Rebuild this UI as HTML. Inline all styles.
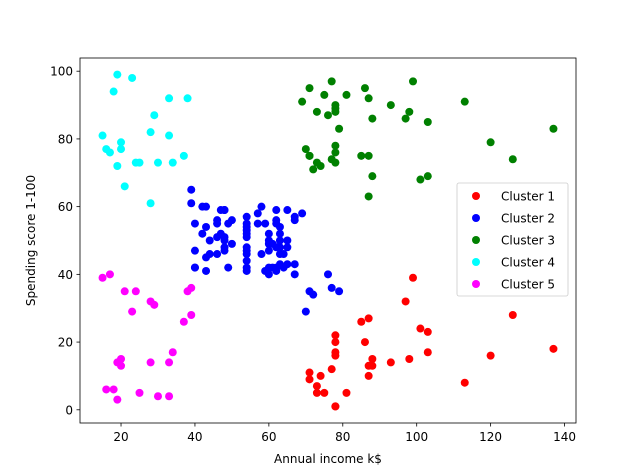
<!DOCTYPE html>
<html><head><meta charset="utf-8"><style>
body{margin:0;background:#fff}
svg{display:block;font-family:"DejaVu Sans","Liberation Sans",sans-serif}
</style></head><body>
<svg id="chart" width="640" height="476"></svg>
<script>
const income=[15,15,16,16,17,17,18,18,19,19,19,19,20,20,20,20,21,21,23,23,24,24,25,25,28,28,28,28,29,29,30,30,33,33,33,33,34,34,37,37,38,38,39,39,39,39,40,40,40,40,42,42,43,43,43,43,44,44,46,46,46,46,47,47,48,48,48,48,48,48,49,49,50,50,54,54,54,54,54,54,54,54,54,54,54,54,57,57,58,58,59,59,60,60,60,60,60,60,61,61,62,62,62,62,62,62,63,63,63,63,63,63,64,64,65,65,65,65,67,67,67,67,69,69,70,70,71,71,71,71,71,71,72,72,73,73,73,73,74,74,75,75,76,76,77,77,77,77,78,78,78,78,78,78,78,78,78,78,78,78,79,79,81,81,85,85,86,86,87,87,87,87,87,87,88,88,88,88,93,93,97,97,98,98,99,99,101,101,103,103,103,103,113,113,120,120,126,126,137,137];
const score=[39,81,6,77,40,76,6,94,3,72,14,99,15,77,13,79,35,66,29,98,35,73,5,73,14,82,32,61,31,87,4,73,4,92,14,81,17,73,26,75,35,92,36,61,28,65,55,47,42,42,52,60,54,60,45,41,50,46,51,46,56,55,52,59,51,59,50,48,59,47,55,42,49,56,47,54,53,48,52,42,51,55,41,44,57,46,58,55,60,46,55,41,49,40,42,52,47,50,42,49,41,48,59,55,56,42,50,46,43,48,52,54,42,46,48,50,43,59,43,57,56,40,58,91,29,77,35,95,11,75,9,75,34,71,5,88,7,73,10,72,5,93,40,87,12,97,36,74,22,90,17,88,20,76,16,89,1,78,1,73,35,83,5,93,26,75,20,95,27,63,13,75,10,92,13,86,15,69,14,90,32,86,15,88,39,97,24,68,17,85,23,69,8,91,16,79,28,74,18,83];
const clusterNames=["Cluster 1","Cluster 2","Cluster 3","Cluster 4","Cluster 5"];
const clusterColors=["red","blue","green","cyan","magenta"];
const xTicks=[20,40,60,80,100,120,140];
const yTicks=[0,20,40,60,80,100];
function clusterOf(x,y){
  if(x<=39&&y<50) return 4;
  if(x<=38&&y>=50) return 3;
  if(x>=69&&y>=60) return 2;
  if(x>=70&&(y<=28||x>=85)) return 0;
  return 1;
}
const L=80,R=576,T=58,B=423;
const xmin=8.9,xmax=143.1,ymin=-3.9,ymax=103.9;
const sx=v=>L+(v-xmin)/(xmax-xmin)*(R-L);
const sy=v=>B-(v-ymin)/(ymax-ymin)*(B-T);
const svg=document.getElementById('chart');
const NS='http://www.w3.org/2000/svg';
function mk(t,a,p){const e=document.createElementNS(NS,t);for(const k in a)e.setAttribute(k,a[k]);(p||svg).appendChild(e);return e;}
const gp=mk('g',{});


for(let c=0;c<5;c++){
  const g=mk('g',{},gp);
  
  
  for(let i=0;i<income.length;i++){
    if(clusterOf(income[i],score[i])!==c)continue;
    const p=mk('circle',{cx:sx(income[i]),cy:sy(score[i]),r:4,fill:clusterColors[c]},g);
    
    
  }
}
const frame=mk('rect',{x:L,y:T,width:R-L,height:B-T,fill:'none',stroke:'#000','stroke-width':0.8});


xTicks.forEach(v=>{
  const x=sx(v);
  const t=mk('line',{x1:x,x2:x,y1:B,y2:B+3.5,stroke:'#000','stroke-width':0.8});
  
  
  const l=mk('text',{x:x,y:B+18,'text-anchor':'middle','font-size':12});
  l.textContent=v;
  
  
});
yTicks.forEach(v=>{
  const y=sy(v);
  const t=mk('line',{x1:L-3.5,x2:L,y1:y,y2:y,stroke:'#000','stroke-width':0.8});
  
  
  const l=mk('text',{x:L-7,y:y+4.5,'text-anchor':'end','font-size':12});
  l.textContent=v;
  
  
});
const xt=mk('text',{x:(L+R)/2,y:463,'text-anchor':'middle','font-size':12});
xt.textContent='Annual income k$';


const yt=mk('text',{x:0,y:0,'text-anchor':'middle','font-size':12,transform:'translate(35,'+((T+B)/2)+') rotate(-90)'});
yt.textContent='Spending score 1-100';


const lg=mk('g',{});


mk('rect',{x:457,y:183,width:111,height:113,rx:2,fill:'#fff','fill-opacity':0.8,stroke:'#ccc','stroke-width':0.8},lg);
clusterNames.forEach((n,i)=>{
  const y=196+i*22;
  const e=mk('g',{},lg);
  
  
  mk('circle',{cx:476,cy:y,r:4,fill:clusterColors[i]},e);
  const t=mk('text',{x:501,y:y+4.5,'font-size':12},e);
  t.textContent=n;
});
</script>
</body></html>
